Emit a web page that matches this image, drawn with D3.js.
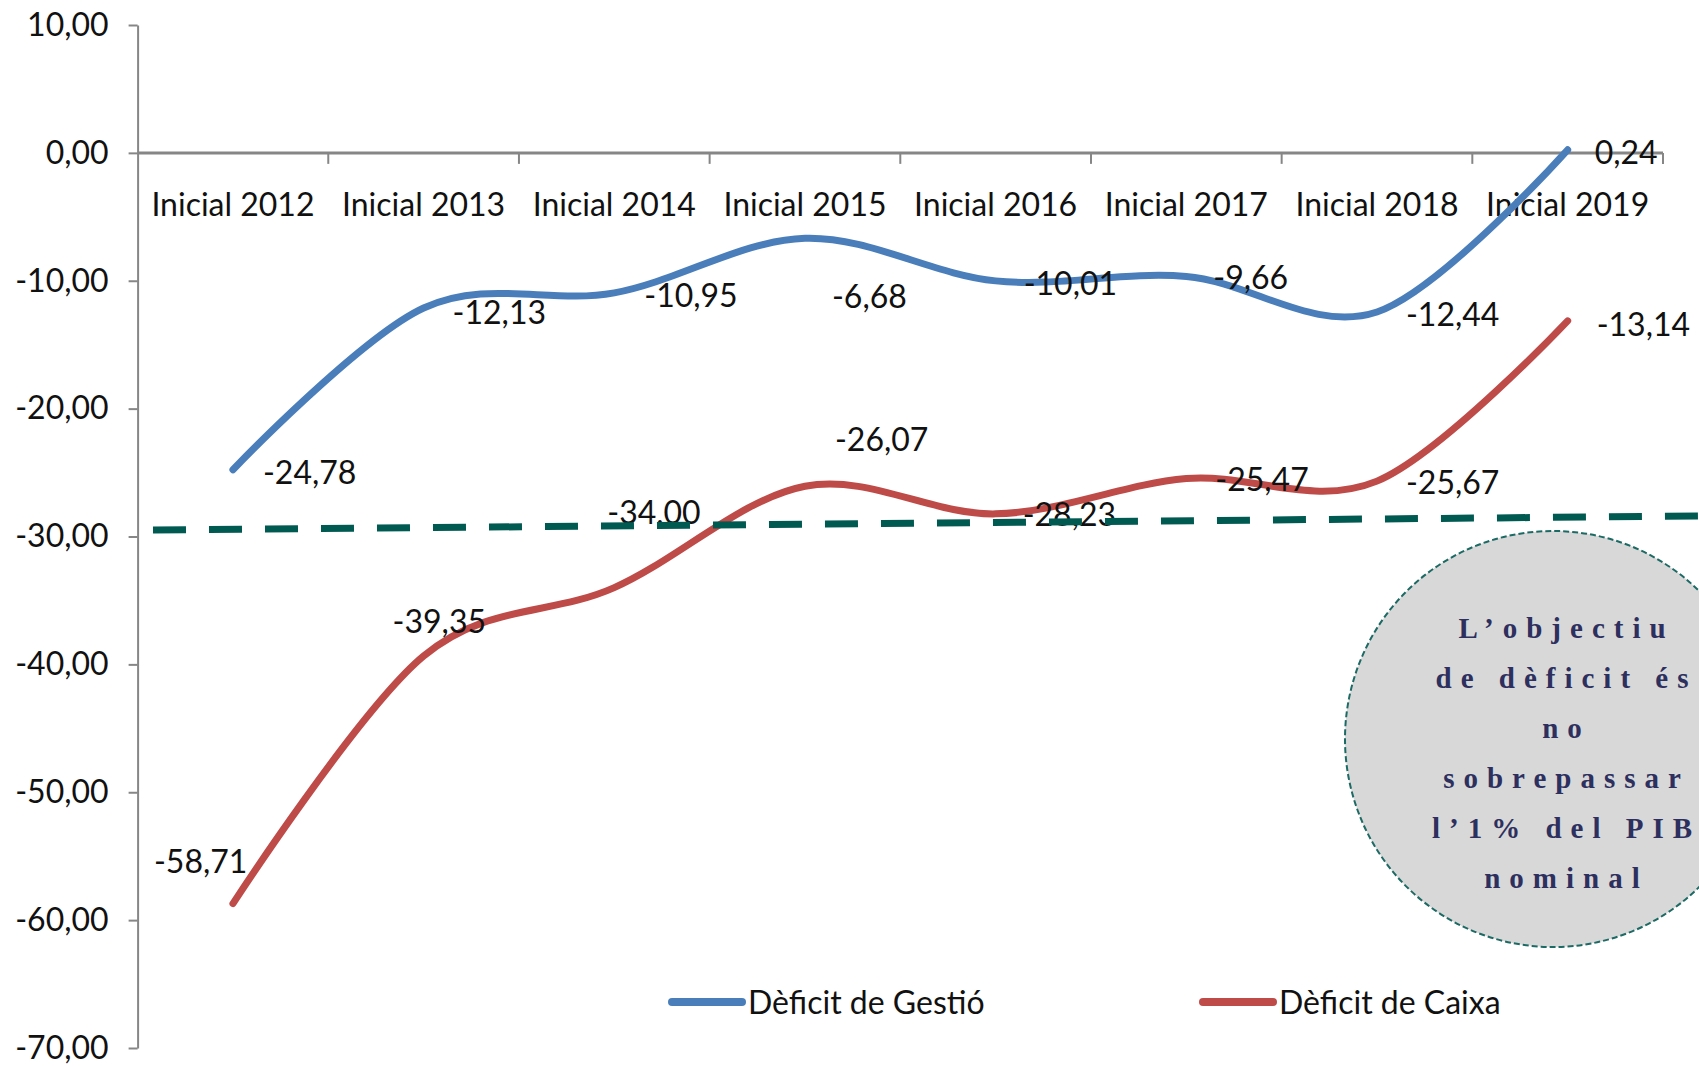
<!DOCTYPE html>
<html>
<head>
<meta charset="utf-8">
<script src="https://cdn.jsdelivr.net/npm/d3@7"></script>
<style>
  body { margin: 0; background: #fff; }
  svg text { font-family: Lato, "Open Sans", sans-serif; fill: #111; }
</style>
</head>
<body>
<script>
// chart data
var categories = ['Inicial 2012', 'Inicial 2013', 'Inicial 2014', 'Inicial 2015',
                  'Inicial 2016', 'Inicial 2017', 'Inicial 2018', 'Inicial 2019'];
var gestio = [-24.78, -12.13, -10.95, -6.68, -10.01, -9.66, -12.44, 0.24];
var caixa  = [-58.71, -39.35, -34.00, -26.07, -28.23, -25.47, -25.67, -13.14];
var seriesNames = ['Dèficit de Gestió', 'Dèficit de Caixa'];
var yTicks = [10, 0, -10, -20, -30, -40, -50, -60, -70];
// objective line (1% of PIB), value at left and right end
var targetLine = [-29.5, -28.4];
var noteLines = ['L’objectiu', 'de dèficit és', 'no', 'sobrepassar', 'l’1% del PIB', 'nominal'];

// label offsets from the point (px), default is to the right
var gestioLabelPos = [[30, 3], [29, 4], [30, 3], [27, 58], [28, 3], [27, 1], [29, 3], [27, 3]];
var caixaLabelPos  = [[-79, -42], [-31, -35], [-7, -75], [30, -47], [27, 1], [29, 1], [29, 1], [29, 4]];

var width = 1699, height = 1066;
var blue = '#4a7ebb', red = '#be4b48', teal = '#005a52';

var svg = d3.select('body').append('svg')
  .attr('width', width)
  .attr('height', height);

var x = d3.scaleBand().domain(categories).range([137.6, 1663]).padding(0);
var y = d3.scaleLinear().domain([10, -70]).range([25, 1048]);
var cx = function(c) { return x(c) + x.bandwidth() / 2; };

function fmt(v) { return v.toFixed(2).replace('.', ','); }

// y axis
var yAxis = svg.append('g')
  .attr('transform', 'translate(' + x.range()[0] + ',0)')
  .call(d3.axisLeft(y).tickValues(yTicks).tickFormat(fmt).tickSize(9).tickSizeOuter(0).tickPadding(20));
yAxis.select('.domain').attr('stroke', '#868686').attr('stroke-width', 2);
yAxis.selectAll('.tick line').attr('stroke', '#868686').attr('stroke-width', 2);
yAxis.selectAll('.tick text').attr('font-size', 32).attr('font-family', 'Lato, sans-serif').attr('fill', '#111');

// x axis along zero
var y0 = y(0);
svg.append('line')
  .attr('x1', x.range()[0]).attr('x2', x.range()[1])
  .attr('y1', y0).attr('y2', y0)
  .attr('stroke', '#868686').attr('stroke-width', 3);

svg.selectAll('.xtick')
  .data(categories)
  .enter()
  .append('line')
  .attr('class', 'xtick')
  .attr('x1', function(d) { return x(d) + x.bandwidth(); })
  .attr('x2', function(d) { return x(d) + x.bandwidth(); })
  .attr('y1', y0)
  .attr('y2', y0 + 11)
  .attr('stroke', '#868686')
  .attr('stroke-width', 2);

svg.selectAll('.xlabel')
  .data(categories)
  .enter()
  .append('text')
  .attr('class', 'xlabel')
  .attr('x', cx)
  .attr('y', 216)
  .attr('text-anchor', 'middle')
  .attr('font-size', 32)
  .text(function(d) { return d; });

// smoothed lines (Excel style)
var line = d3.line()
  .x(function(d, i) { return cx(categories[i]); })
  .y(function(d) { return y(d); })
  .curve(d3.curveCardinal.tension(0));

var series = [
  { name: seriesNames[0], values: gestio, color: blue, labels: gestioLabelPos },
  { name: seriesNames[1], values: caixa, color: red, labels: caixaLabelPos }
];

series.forEach(function(s) {
  svg.append('path')
    .datum(s.values)
    .attr('d', line)
    .attr('fill', 'none')
    .attr('stroke', s.color)
    .attr('stroke-width', 7)
    .attr('stroke-linecap', 'round');
});

series.forEach(function(s) {
  svg.selectAll(null)
    .data(s.values)
    .enter()
    .append('text')
    .attr('x', function(d, i) { return cx(categories[i]) + s.labels[i][0]; })
    .attr('y', function(d, i) { return y(d) + s.labels[i][1]; })
    .attr('dy', '0.36em')
    .attr('font-size', 32)
    .text(fmt);
});

// dashed objective line
svg.append('line')
  .attr('x1', 153).attr('x2', width)
  .attr('y1', y(targetLine[0])).attr('y2', y(targetLine[1]))
  .attr('stroke', teal)
  .attr('stroke-width', 7)
  .attr('stroke-dasharray', '33,23');

// note bubble
var note = svg.append('g');
note.append('circle')
  .attr('cx', 1553).attr('cy', 739).attr('r', 208)
  .attr('fill', '#d8d8d8')
  .attr('stroke', '#1c6a64')
  .attr('stroke-width', 2)
  .attr('stroke-dasharray', '6,3');

note.selectAll('text')
  .data(noteLines)
  .enter()
  .append('text')
  .attr('x', 1562 + 4.5)
  .attr('y', function(d, i) { return 638 + i * 50; })
  .attr('text-anchor', 'middle')
  .attr('font-family', '"Liberation Serif", "DejaVu Serif", serif')
  .attr('font-weight', 'bold')
  .attr('font-size', 29)
  .attr('letter-spacing', 9)
  .style('font-family', '"Liberation Serif", "DejaVu Serif", serif')
  .style('fill', '#2d2f5e')
  .text(function(d) { return d; });

// legend
var legendX = [672, 1203];
var legend = svg.selectAll('.legend')
  .data(series)
  .enter()
  .append('g')
  .attr('class', 'legend')
  .attr('transform', function(d, i) { return 'translate(' + legendX[i] + ',1002)'; });

legend.append('line')
  .attr('x1', 0).attr('x2', 70)
  .attr('stroke', function(d) { return d.color; })
  .attr('stroke-width', 8)
  .attr('stroke-linecap', 'round');

legend.append('text')
  .attr('x', 76)
  .attr('dy', '0.36em')
  .attr('font-size', 32)
  .text(function(d) { return d.name; });
</script>
</body>
</html>
